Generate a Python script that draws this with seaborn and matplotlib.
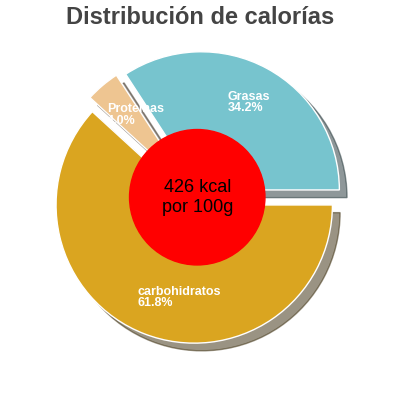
import matplotlib
matplotlib.use("Agg")
import matplotlib.pyplot as plt
import seaborn as sns
import numpy as np

labels = ["Grasas", "Proteínas", "carbohidratos"]
values = [34.2, 4.0, 61.8]
colors = ["#77C4CE", "#EEC591", "#DAA520"]
center_text = "426 kcal\npor 100g"

sns.set_theme(style="white")
plt.rcParams['font.family'] = ['Liberation Sans', 'DejaVu Sans']

fig, ax = plt.subplots(figsize=(4, 4), dpi=100)
fig.subplots_adjust(left=0.12, right=0.88, top=0.9, bottom=0.1)

wedges, texts = ax.pie(
    values,
    colors=colors,
    startangle=0,
    counterclock=True,
    explode=[0.06, 0.06, 0.06],
    shadow={"ox": 0.04, "oy": -0.04, "shade": 0.75},
    radius=1.0,
)

# slice labels
for lab, val, w in zip(labels, values, wedges):
    mid = np.deg2rad((w.theta1 + w.theta2) / 2)
    r = 0.72
    cx, cy = w.center
    x = cx + r * np.cos(mid) - 0.15
    y = cy + r * np.sin(mid)
    ax.text(x, y, f"{lab}\n{val}%", color="white", fontsize=9,
            fontweight="bold", ha="left", va="center", linespacing=0.95)

ax.add_patch(plt.Circle((0, 0), 0.49, color="red", zorder=5))
ax.text(0, 0, center_text, ha="center", va="center", fontsize=13,
        color="black", zorder=6)

ax.set_xlim(-1.08, 1.12)
ax.set_ylim(-1.12, 1.08)
ax.set_aspect("equal")
fig.suptitle("Distribución de calorías", fontsize=17, fontweight="bold",
             color="#444444", y=0.985)
fig.savefig("out.png", dpi=100)
